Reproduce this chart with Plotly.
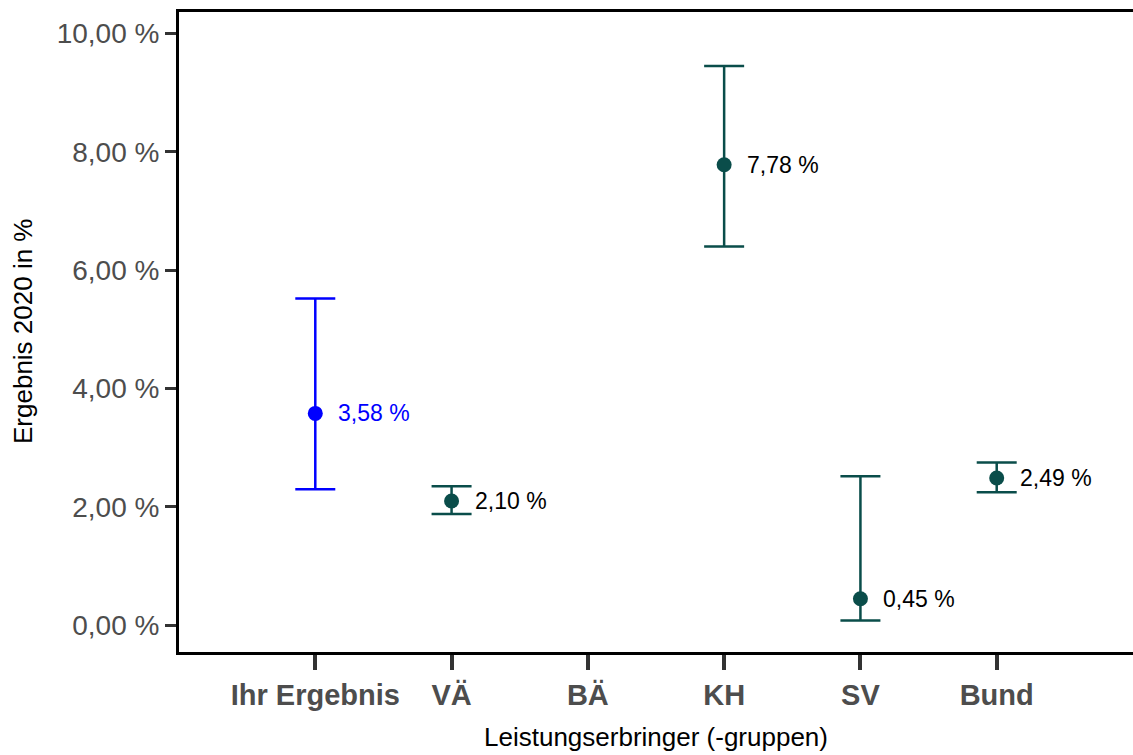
import plotly.graph_objects as go

categories = ["Ihr Ergebnis", "VÄ", "BÄ", "KH", "SV", "Bund"]

own_cat = ["Ihr Ergebnis"]
own_val = [3.58]
own_low = [2.30]
own_high = [5.52]

grp_cat = ["VÄ", "KH", "SV", "Bund"]
grp_val = [2.10, 7.78, 0.45, 2.49]
grp_low = [1.88, 6.40, 0.08, 2.25]
grp_high = [2.35, 9.45, 2.52, 2.75]

y_ticks = [0, 2, 4, 6, 8, 10]

BLUE = "#0000ff"
TEAL = "#0a4d4a"
FONT = "Liberation Sans, Arial, Helvetica, sans-serif"


def de_pct(v):
    return f"{v:.2f}".replace(".", ",") + " %"


fig = go.Figure()


def add_series(cats, vals, lows, highs, color):
    fig.add_trace(go.Scatter(
        x=cats, y=vals, mode="markers",
        marker=dict(color=color, size=15),
        error_y=dict(
            type="data", symmetric=False,
            array=[h - v for h, v in zip(highs, vals)],
            arrayminus=[v - l for v, l in zip(vals, lows)],
            color=color, thickness=2.5, width=20,
        ),
        showlegend=False, hoverinfo="skip",
    ))


add_series(own_cat, own_val, own_low, own_high, BLUE)
add_series(grp_cat, grp_val, grp_low, grp_high, TEAL)

for c, v in zip(own_cat, own_val):
    fig.add_annotation(x=c, y=v, text=de_pct(v), showarrow=False,
                       xanchor="left", yanchor="middle", xshift=21,
                       font=dict(size=23, color=BLUE, family=FONT))
for c, v in zip(grp_cat, grp_val):
    fig.add_annotation(x=c, y=v, text=de_pct(v), showarrow=False,
                       xanchor="left", yanchor="middle", xshift=21,
                       font=dict(size=23, color="#000000", family=FONT))

# axis titles
fig.add_annotation(xref="paper", yref="paper", x=0.5, y=0, yshift=-85,
                   text="Leistungserbringer (-gruppen)", showarrow=False,
                   xanchor="center", yanchor="middle",
                   font=dict(size=26, color="black", family=FONT))
fig.add_annotation(xref="paper", yref="paper", x=0, y=0.5, xshift=-156,
                   text="Ergebnis 2020 in %", showarrow=False, textangle=-90,
                   xanchor="center", yanchor="middle",
                   font=dict(size=26, color="black", family=FONT))

fig.update_layout(
    width=1133, height=755,
    margin=dict(l=179, r=0, t=12, b=103),
    paper_bgcolor="white", plot_bgcolor="white",
    font=dict(family=FONT),
    xaxis=dict(
        type="category", categoryorder="array", categoryarray=categories,
        tickvals=categories, ticktext=[f"<b>{c}</b>" for c in categories],
        range=[-1.0, 6.0], automargin=False,
        showgrid=False, zeroline=False,
        showline=True, linecolor="black", linewidth=2.5, mirror=True,
        ticks="outside", ticklen=15, tickwidth=4, tickcolor="#333333",
        tickfont=dict(size=29, color="#4d4d4d", family=FONT),
    ),
    yaxis=dict(
        range=[-0.45, 10.36], automargin=False,
        tickvals=y_ticks, ticktext=[de_pct(v) for v in y_ticks],
        showgrid=False, zeroline=False,
        showline=True, linecolor="black", linewidth=3,
        ticks="outside", ticklen=11, tickwidth=2.5, tickcolor="#333333",
        tickfont=dict(size=28, color="#4d4d4d", family=FONT),
    ),
)

fig.write_html(
    "out.html",
    config={"displayModeBar": False},
    post_script="document.body.style.margin='0';document.body.style.overflow='hidden';",
)
